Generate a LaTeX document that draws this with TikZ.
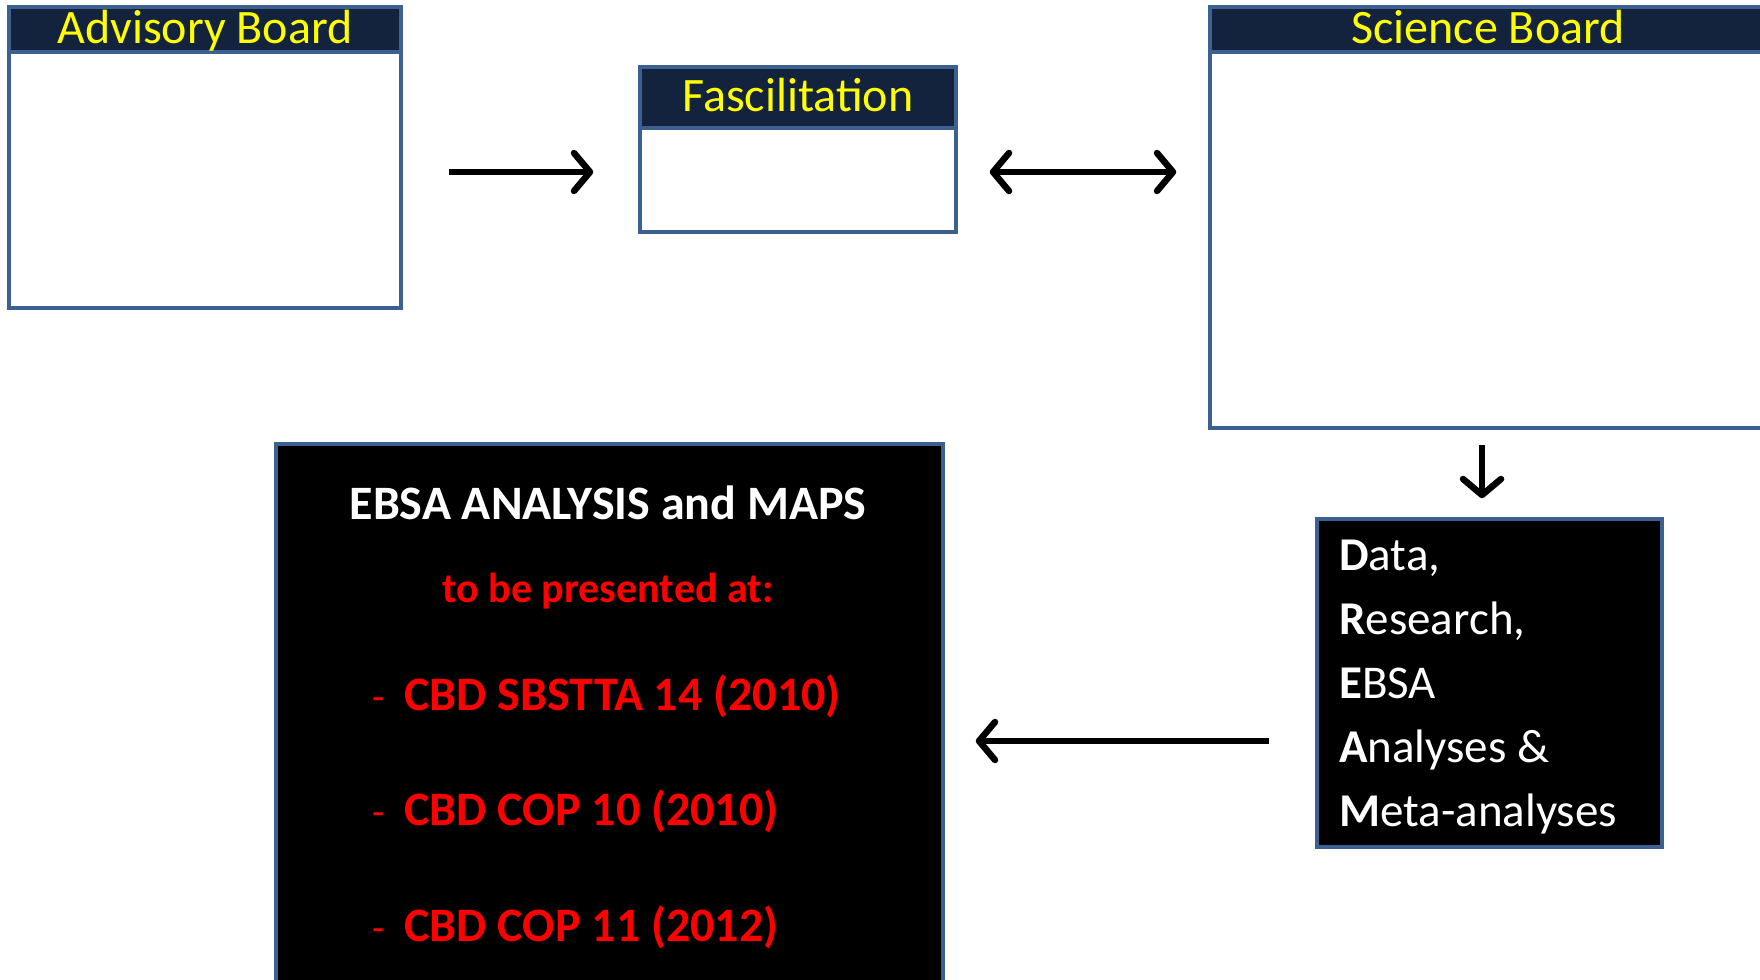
\documentclass[tikz,border=0pt]{standalone}
\usepackage{fontspec}
\setmainfont{Carlito}
\usetikzlibrary{arrows.meta,positioning,calc}
\definecolor{boardblue}{HTML}{3C6090}
\definecolor{navy}{HTML}{13233E}
\definecolor{signyellow}{HTML}{FFFF00}
\definecolor{hotred}{HTML}{FF0000}

\begin{document}
\begin{tikzpicture}[
  x=1pt,y=-1pt,
  >={Straight Barb[length=16pt,width=38pt,round]},
  body/.style={draw=boardblue,line width=3.5pt,fill=white,inner sep=0pt},
  titlebar/.style={draw=boardblue,line width=3.5pt,fill=navy,inner sep=0pt,
    text=signyellow,text height=29pt,text depth=0pt,font=\fontsize{48}{48}\selectfont},
  darkbox/.style={draw=boardblue,line width=3.5pt,fill=black,inner sep=0pt},
  headtext/.style={text=white,inner sep=0pt,font=\bfseries\fontsize{48}{48}\selectfont},
  redtext/.style={text=hotred,inner sep=0pt,font=\bfseries\fontsize{48}{48}\selectfont},
  datatext/.style={text=white,inner sep=0pt,font=\fontsize{47}{47}\selectfont},
  flow/.style={->,line width=6.5pt}
]
  \useasboundingbox (0,0) rectangle (1760,979);

  \node[body,minimum width=392pt,minimum height=301pt] (adv) at (205,157.5) {};
  \node[titlebar,minimum width=392pt,minimum height=45pt,anchor=north] (advtitle) at (adv.north) {Advisory Board};

  \node[body,minimum width=316pt,minimum height=165pt] (fac) at (798,149.5) {};
  \node[titlebar,minimum width=316pt,minimum height=61pt,anchor=north] (factitle) at (fac.north) {Fascilitation};

  \node[body,minimum width=556pt,minimum height=421pt] (sci) at (1488,217.5) {};
  \node[titlebar,minimum width=556pt,minimum height=45pt,anchor=north] (scititle) at (sci.north) {Science Board};

  \node[darkbox,minimum width=345pt,minimum height=328pt] (data) at (1489.5,683) {};
  \foreach \txt [count=\i] in {{\textbf{D}ata,},{\textbf{R}esearch,},{\textbf{E}BSA},{\textbf{A}nalyses \&},{\textbf{M}eta-analyses}}
    \node[datatext,anchor=base west] (data\i) at (1339,{570+64*(\i-1)}) {\txt};

  \node[darkbox,minimum width=667pt,minimum height=556pt] (ebsa) at (609.5,722) {};
  \node[headtext,anchor=base] (ebsahead) at (608,519) {EBSA ANALYSIS and MAPS};
  \node[redtext,font=\bfseries\fontsize{42}{42}\selectfont,anchor=base] (presented) at (608,602) {to be presented at:};
  \node[redtext,anchor=base west] (sbstta) at (372,710) {{\mdseries\fontsize{40}{40}\selectfont -}\hspace{20pt}CBD SBSTTA 14 (2010)};
  \node[redtext,anchor=base west] (cop10) at (372,825) {{\mdseries\fontsize{40}{40}\selectfont -}\hspace{20pt}CBD COP 10 (2010)};
  \node[redtext,anchor=base west] (cop11) at (372,941) {{\mdseries\fontsize{40}{40}\selectfont -}\hspace{20pt}CBD COP 11 (2012)};

  \coordinate (toprow) at (0,172);
  \coordinate (lowrow) at (0,741);
  \coordinate (downcol) at (1482,0);
  \draw[flow] ($(adv.east |- toprow)+(46,0)$) -- ($(fac.west |- toprow)+(-45,0)$);
  \draw[flow,<->] ($(fac.east |- toprow)+(32,0)$) -- ($(sci.west |- toprow)+(-32,0)$);
  \draw[flow] ($(downcol |- sci.south)+(0,15)$) -- ($(downcol |- data.north)+(0,-19)$);
  \draw[flow] ($(data.west |- lowrow)+(-46,0)$) -- ($(ebsa.east |- lowrow)+(31,0)$);
\end{tikzpicture}
\end{document}
